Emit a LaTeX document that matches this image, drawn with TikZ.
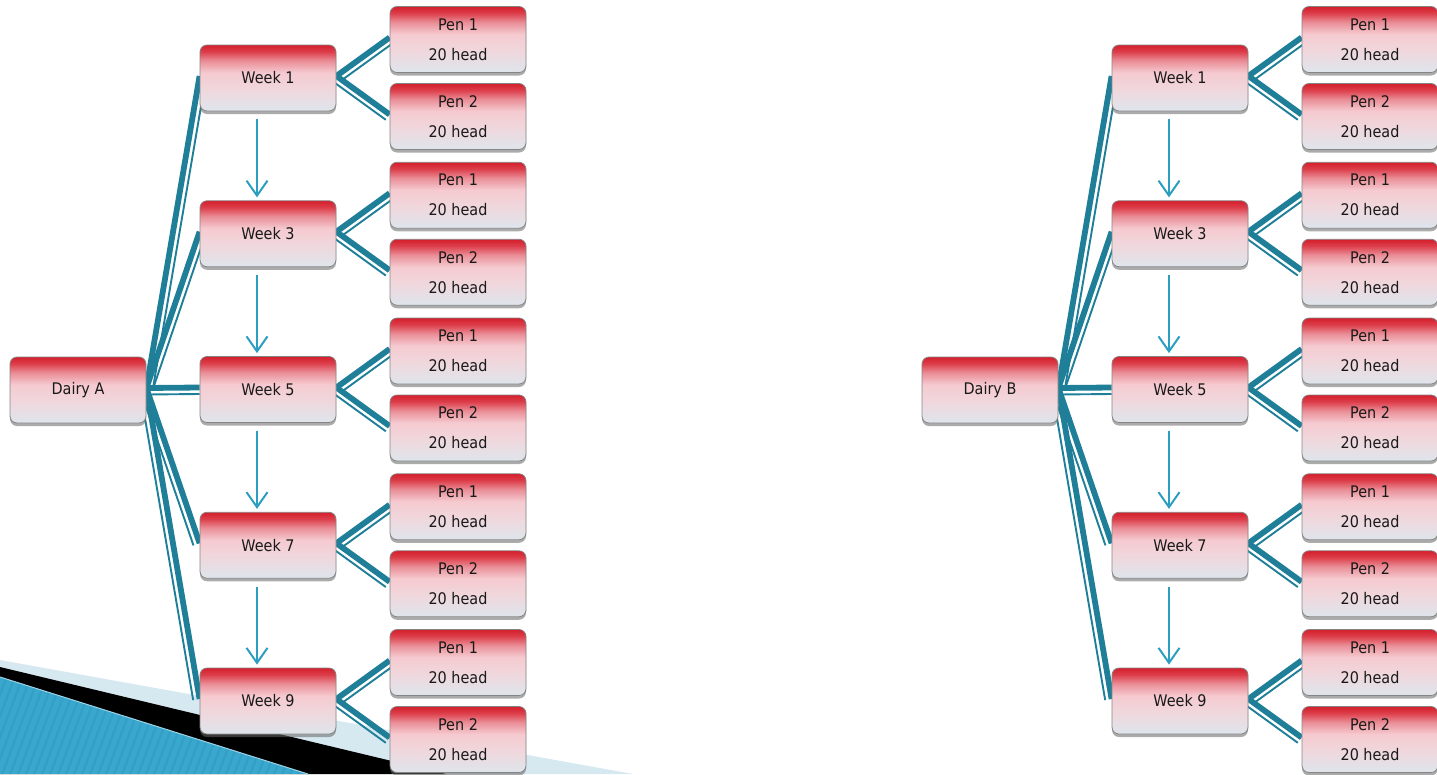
\documentclass[tikz,border=0pt]{standalone}
\usepackage{fontspec}
\setmainfont{DejaVu Sans}[FakeStretch=0.9]
\usetikzlibrary{calc,shadows,arrows.meta}
\definecolor{topred}{HTML}{D41E2C}
\definecolor{red2}{HTML}{DC3E4A}
\definecolor{midred}{HTML}{EA8E97}
\definecolor{pinkc}{HTML}{F5CAD0}
\definecolor{pinkc2}{HTML}{F0D7DC}
\definecolor{botc}{HTML}{DEE5EC}
\definecolor{conn}{HTML}{1F7F98}
\definecolor{arrc}{HTML}{2C9EC0}
\definecolor{bordc}{HTML}{858585}
\definecolor{lightband}{HTML}{D6E8F0}
\definecolor{stripeA}{HTML}{3AA8CE}
\definecolor{stripeB}{HTML}{2A90B6}
\pgfdeclareverticalshading{boxshade}{100bp}{color(0bp)=(botc); color(25bp)=(botc); color(42bp)=(pinkc2); color(54bp)=(pinkc); color(63bp)=(midred); color(70bp)=(red2); color(75bp)=(topred); color(100bp)=(topred)}
\pgfdeclarelayer{deco}
\pgfdeclarelayer{bg}
\pgfsetlayers{deco,bg,main}
\tikzset{
 box/.style={draw=bordc, line width=0.8pt, rounded corners=7pt, shading=boxshade,
   minimum width=136pt, minimum height=66pt, inner sep=0pt,
   font=\fontsize{16}{30}\selectfont, align=center, text=black!90,
   drop shadow={shadow xshift=0pt, shadow yshift=-3pt, opacity=0.55, fill=black!60}},
 thickc/.style={draw=conn, line width=5.8pt},
 thinc/.style={draw=conn, line width=1.9pt},
 weekarrow/.style={draw=arrc, line width=2pt, -{Straight Barb[length=15pt,width=21pt]}},
}
\newcommand\mylink[2]{%
 \coordinate (ls) at ($(#1.east)+(0,-2)$);
 \coordinate (le) at ($(#2.west)+(0,-2)$);
 \draw[thickc] (ls) -- (le);
 \draw[thinc] ($(ls)!6.5pt!-90:(le)$) -- ($(le)!6.5pt!90:(ls)$);
}
\begin{document}
\begin{tikzpicture}[x=1pt,y=-1pt]
\useasboundingbox (0,0) rectangle (1437,774);
% decoration bottom left
\begin{pgfonlayer}{deco}
 \fill[lightband] (0,660) -- (633,774) -- (0,774) -- cycle;
 \fill[black] (0,667) -- (446,774) -- (0,774) -- cycle;
 \begin{scope}
  \clip (0,677) -- (308,774) -- (0,774) -- cycle;
  \fill[stripeA] (0,670) rectangle (320,774);
  \foreach \k in {-120,-112,...,330}
   \draw[stripeB, opacity=0.3, line width=2.5pt] (\k,780) -- (\k+45,660);
 \end{scope}
 \draw[stripeA!50!white, line width=1pt] (0,677) -- (308,774);
\end{pgfonlayer}
% nodes
\foreach \s/\ox in {A/0,B/912}{
  \node[box] (d\s) at (78+\ox,390) {Dairy \s};
  \foreach \i/\wk in {0/1,1/3,2/5,3/7,4/9}{
    \pgfmathsetmacro\yy{78+155.75*\i}
    \node[box] (w\s\i) at (268+\ox,\yy) {Week \wk};
    \node[box] (pa\s\i) at (458+\ox,\yy-38.5) {Pen 1\\20 head};
    \node[box] (pb\s\i) at (458+\ox,\yy+38.5) {Pen 2\\20 head};
  }
}
% connectors
\begin{pgfonlayer}{bg}
\foreach \s in {A,B}{
  \foreach \i in {0,...,4}{
    \mylink{d\s}{w\s\i}
    \mylink{w\s\i}{pa\s\i}
    \mylink{w\s\i}{pb\s\i}
  }
  \foreach \i/\j in {0/1,1/2,2/3,3/4}{
    \draw[weekarrow] ($(w\s\i.south)+(-11,8)$) -- ($(w\s\j.north)+(-11,-3)$);
  }
}
\end{pgfonlayer}
\end{tikzpicture}
\end{document}
